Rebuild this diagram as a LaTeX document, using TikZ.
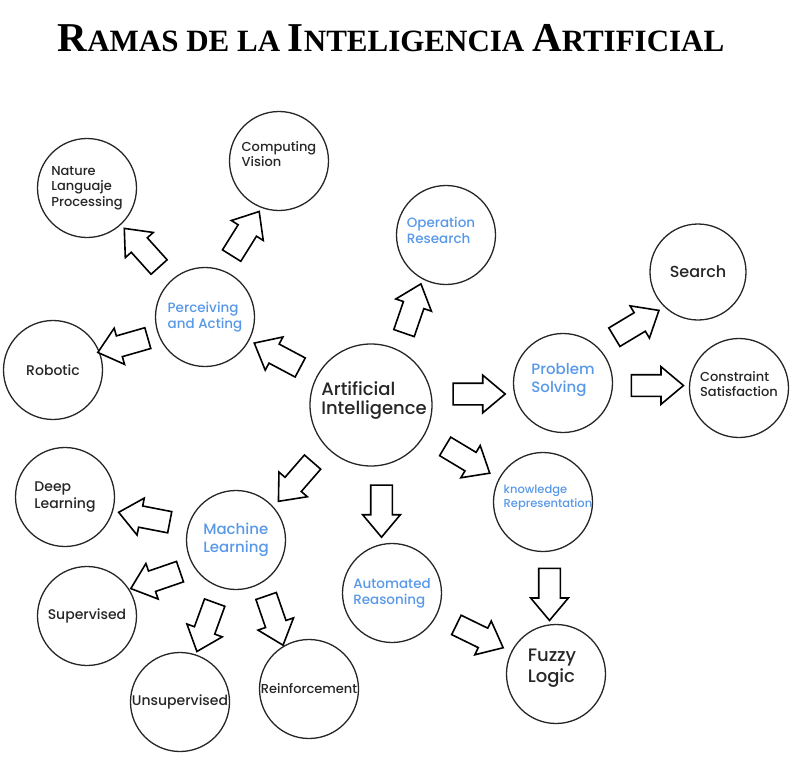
\documentclass[tikz,border=0pt]{standalone}
\usepackage{fontspec}
\setmainfont{Poppins Medium}
\newfontfamily\titlefont{Liberation Serif}
\usepackage{tikz}
\usetikzlibrary{shapes.arrows,calc}
\definecolor{skyblue}{RGB}{88,152,232}
\definecolor{inkgray}{RGB}{38,38,38}

% fake small caps for the title
\newcommand{\capL}[1]{{\fontsize{41}{43}\selectfont #1}}
\newcommand{\capS}[1]{{\fontsize{31}{33}\selectfont\MakeUppercase{#1}}}
\newcommand{\fs}[1]{\fontsize{#1}{\fpeval{#1+2.5}}\selectfont}

% block arrow between two circles, #3 = direction
\newcommand{\flowarrow}[3]{%
	\pgfmathtruncatemacro{\backang}{#3+180}
	\node[fatarrow,rotate=#3] (#1-#2) at ($(#1.#3)!0.5!(#2.\backang)$) {};
}

\begin{document}
\begin{tikzpicture}[x=1pt,y=-1pt]
		\tikzstyle{bubble}=[circle,draw=inkgray,line width=1.3pt,
		minimum size=99pt,inner sep=0pt]
		\tikzstyle{lbl}=[align=left,text=inkgray,font=\fontsize{13.5}{16}\selectfont]
		\tikzstyle{blbl}=[lbl,text=skyblue]
		\tikzstyle{fatarrow}=[single arrow,draw=black,line width=1.6pt,fill=white,
		minimum height=52pt,minimum width=36pt,inner xsep=0pt,inner ysep=10pt,
		single arrow head extend=8pt,single arrow tip angle=80]
		\useasboundingbox (0,0) rectangle (795,779);
		\node[font=\titlefont\bfseries\fontsize{31}{33}\selectfont,text=black] (title) at (391,38)
		{\capL{R}\capS{amas de la} \capL{I}\capS{nteligencia} \capL{A}\capS{rtificial}};
		% centre
		\node[bubble,minimum size=122pt,
		label={[lbl,font=\fontsize{18}{19}\selectfont,xshift=3pt,yshift=5pt]center:Artificial\\Intelligence}] (ai) at (371,405) {};
		% perceiving and acting
		\node[bubble,label={[blbl]center:Perceiving\\and Acting}] (pa) at (205,317) {};
		\node[bubble,label={[lbl,font=\fs{13}]center:Nature\\Languaje\\Processing}] (nlp) at (87,188) {};
		\node[bubble,label={[lbl,font=\fs{13},yshift=7pt]center:Computing\\Vision}] (cv) at (279,161) {};
		\node[bubble,label={[lbl,font=\fs{14}]center:Robotic}] (rob) at (53,370) {};
		% operation research
		\node[bubble,label={[blbl,xshift=-5pt,yshift=5pt]center:Operation\\Research}] (or) at (446,235) {};
		% problem solving
		\node[bubble,label={[blbl,font=\fs{15},yshift=3pt]center:Problem\\Solving}] (ps) at (563,383) {};
		\node[bubble,minimum size=96pt,label={[lbl,font=\fs{16}]center:Search}] (srch) at (698,272) {};
		\node[bubble,label={[lbl,font=\fs{13},yshift=4pt]center:Constraint\\Satisfaction}] (cs) at (739,388) {};
		% machine learning
		\node[bubble,label={[blbl,font=\fs{15}]center:Machine\\Learning}] (ml) at (236,540) {};
		\node[bubble,label={[lbl,font=\fs{14}]center:Deep\\Learning}] (dl) at (65,497) {};
		\node[bubble,label={[lbl,font=\fs{14}]center:Supervised}] (sup) at (87,616) {};
		\node[bubble,label={[lbl,font=\fs{14}]center:Unsupervised}] (uns) at (180,702) {};
		\node[bubble,label={[lbl,font=\fs{13}]center:Reinforcement}] (rei) at (309,689) {};
		% reasoning
		\node[bubble,label={[blbl]center:Automated\\Reasoning}] (ar) at (392,593) {};
		\node[bubble,label={[blbl,font=\fs{11.5},xshift=5pt,yshift=4pt]center:knowledge\\Representation}] (kr) at (543,502) {};
		\node[bubble,label={[lbl,font=\fs{18},xshift=-4pt,yshift=6pt]center:Fuzzy\\Logic}] (fl) at (556,674) {};
		% arrows
		\flowarrow{ai}{pa}{152}
		\flowarrow{pa}{nlp}{132}
		\flowarrow{pa}{cv}{58}
		\flowarrow{pa}{rob}{196}
		\flowarrow{ai}{or}{71}
		\flowarrow{ai}{ps}{0}
		\flowarrow{ps}{srch}{31}
		\flowarrow{ps}{cs}{0}
		\flowarrow{ai}{kr}{-31}
		\flowarrow{ai}{ar}{-90}
		\flowarrow{kr}{fl}{-90}
		\flowarrow{ar}{fl}{-26}
		\flowarrow{ai}{ml}{229}
		\flowarrow{ml}{dl}{169}
		\flowarrow{ml}{sup}{199}
		\flowarrow{ml}{uns}{250}
		\flowarrow{ml}{rei}{289}
	\end{tikzpicture}
\end{document}
